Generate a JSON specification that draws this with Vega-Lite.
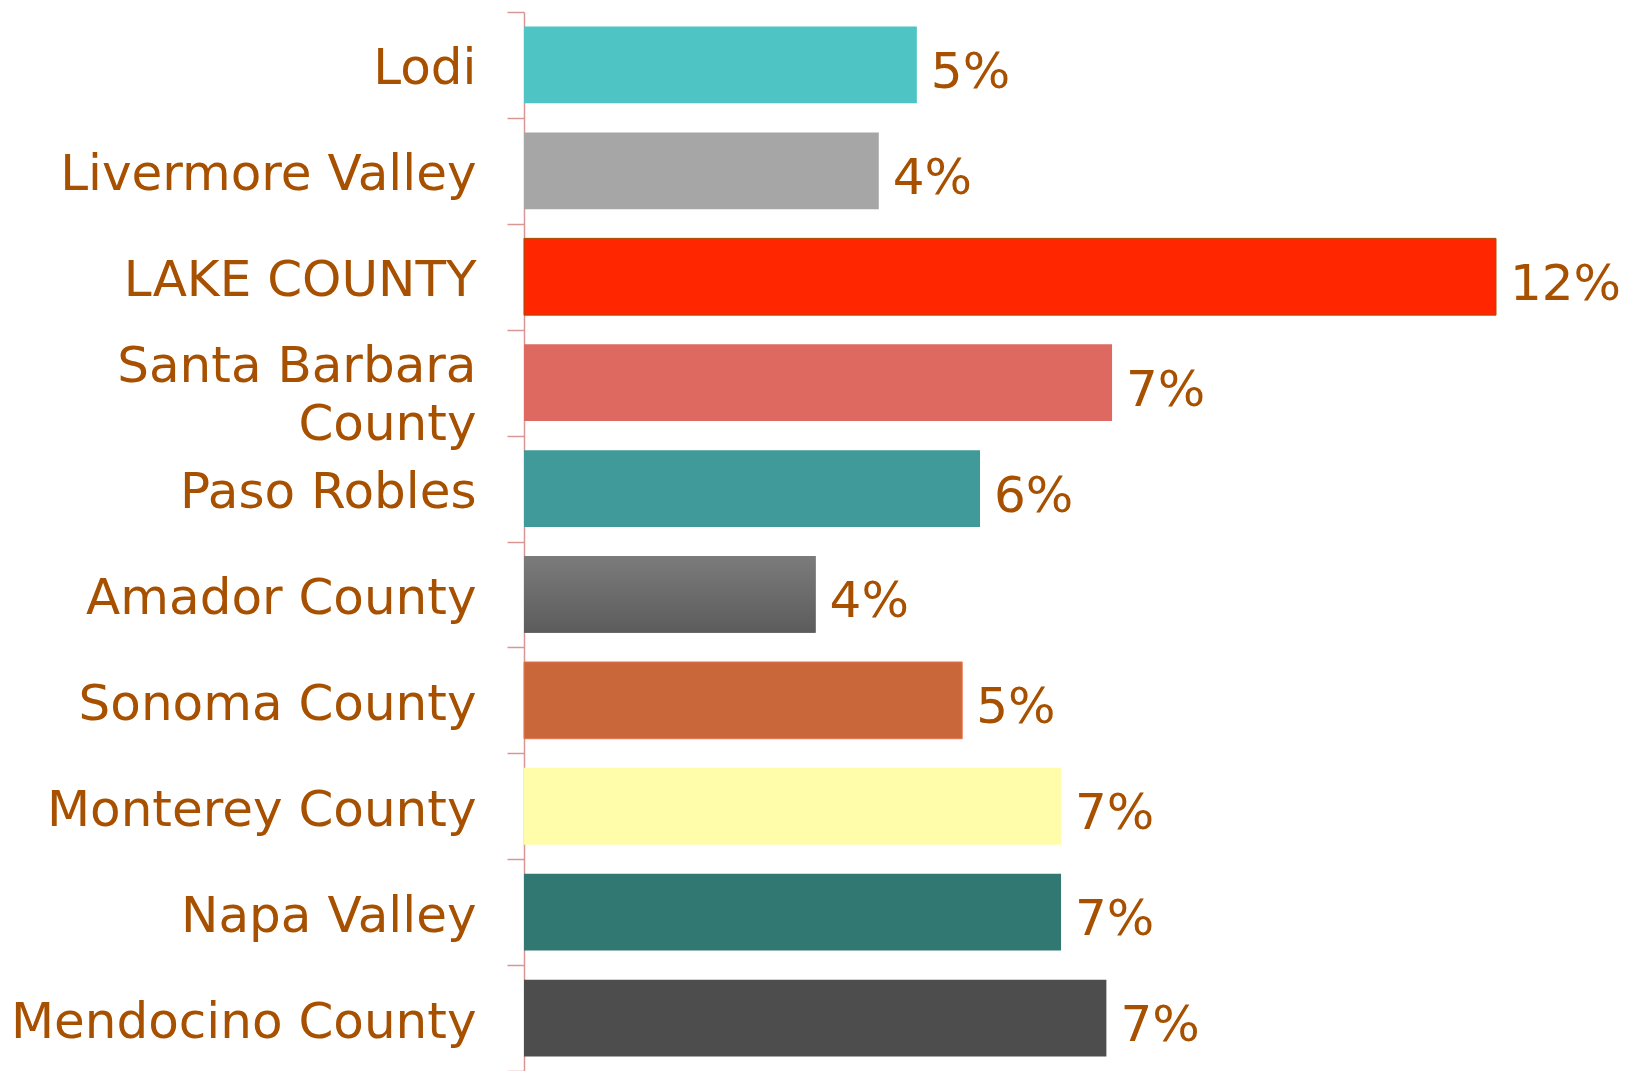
{
  "$schema": "https://vega.github.io/schema/vega-lite/v6.json",
  "autosize": "none",
  "width": 1053,
  "height": 1059,
  "padding": {"left": 524, "top": 12, "right": 58, "bottom": 0},
  "background": "white",
  "config": {"view": {"stroke": null}},
  "data": {"values": [
    {"region": "Lodi", "share": 0.0485},
    {"region": "Livermore Valley", "share": 0.0438},
    {"region": "LAKE COUNTY", "share": 0.12},
    {"region": "Santa Barbara County", "share": 0.0726},
    {"region": "Paso Robles", "share": 0.0563},
    {"region": "Amador County", "share": 0.036},
    {"region": "Sonoma County", "share": 0.0541},
    {"region": "Monterey County", "share": 0.0663},
    {"region": "Napa Valley", "share": 0.0663},
    {"region": "Mendocino County", "share": 0.0719}
  ]},
  "encoding": {
    "y": {
      "field": "region", "type": "nominal", "sort": null,
      "scale": {"paddingInner": 0, "paddingOuter": 0},
      "axis": {
        "title": null,
        "tickBand": "extent",
        "domainColor": "#DA9694", "domainWidth": 1.5,
        "tickColor": "#DA9694", "tickWidth": 1.5, "tickSize": 17,
        "labelPadding": 31,
        "labelFont": "DejaVu Sans", "labelFontSize": 50, "labelColor": "#A65000",
        "labelLineHeight": 58,
        "labelLimit": 600,
        "labelExpr": "datum.value == 'Santa Barbara County' ? ['Santa Barbara', 'County'] : datum.value",
        "labelOffset": {"condition": {"test": "datum.value == 'Santa Barbara County'", "value": -16}, "value": 4}
      }
    },
    "x": {
      "field": "share", "type": "quantitative",
      "scale": {"domain": [0, 0.13], "nice": false},
      "axis": null
    }
  },
  "layer": [
    {
      "mark": {"type": "bar", "height": {"band": 0.725}},
      "encoding": {
        "color": {
          "field": "region", "type": "nominal", "legend": null,
          "scale": {
            "domain": ["Lodi", "Livermore Valley", "LAKE COUNTY", "Santa Barbara County", "Paso Robles", "Amador County", "Sonoma County", "Monterey County", "Napa Valley", "Mendocino County"],
            "range": ["#4FC4C4", "#A6A6A6", "#FF2600", "#DD6960", "#409A99", "#6B6B6B", "#C9663A", "#FFFCAA", "#317872", "#4D4D4D"]
          }
        },
        "stroke": {
          "field": "region", "type": "nominal", "legend": null,
          "scale": {
            "domain": ["LAKE COUNTY", "Sonoma County"],
            "range": ["#A65000", "#E8784F"],
            "unknown": null
          }
        }
      }
    },
    {
      "transform": [{"filter": "datum.region == 'Amador County'"}],
      "mark": {
        "type": "bar", "height": {"band": 0.725},
        "color": {
          "gradient": "linear", "x1": 0, "y1": 0, "x2": 0, "y2": 1,
          "stops": [{"offset": 0, "color": "#7B7B7B"}, {"offset": 1, "color": "#5C5C5C"}]
        }
      }
    },
    {
      "mark": {"type": "text", "align": "left", "baseline": "middle", "dx": 14, "dy": 8, "font": "DejaVu Sans", "fontSize": 50, "color": "#A65000"},
      "encoding": {
        "text": {"field": "share", "type": "quantitative", "format": ".0%"}
      }
    }
  ]
}
